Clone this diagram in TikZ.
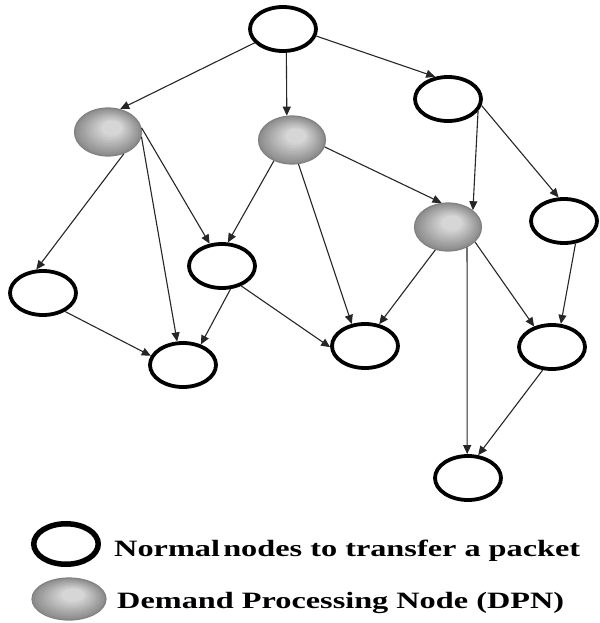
\documentclass[tikz,border=0pt]{standalone}
\usepackage{graphicx}
\usepackage{fontspec}
\setmainfont{Liberation Serif}
\usetikzlibrary{arrows.meta,shapes.geometric}
\definecolor{gdark}{RGB}{140,140,140}
\definecolor{glight}{RGB}{214,214,214}
\definecolor{gborder}{RGB}{130,130,130}
\newcommand{\grayfill}[4]{%
  \foreach \k in {0,...,11}{%
    \pgfmathsetmacro{\gf}{1-\k/16}%
    \pgfmathsetmacro{\gm}{\k*100/11}%
    \fill[glight!\gm!gdark] ({#1+\k*0.35},{#2-\k*0.35}) ellipse [x radius={(#3*\gf)*1pt}, y radius={(#4*\gf)*1pt}];
  }}
\begin{document}
\begin{tikzpicture}[x=1pt,y=-1pt,
  wnode/.style={ellipse,draw=black,line width=3.8pt,fill=white,minimum width=66pt,minimum height=44pt,inner sep=0pt},
  gnode/.style={ellipse,draw=gborder,line width=1.2pt,minimum width=67pt,minimum height=48pt,inner sep=0pt},
  conn/.style={-{Triangle[length=9pt,width=8pt]},line width=1.1pt,draw=black!85},
  legtext/.style={anchor=base west,inner sep=0pt,font=\fontsize{23.4}{28}\selectfont\bfseries}]
\useasboundingbox (0,0) rectangle (599,623);
\node[wnode] (A) at (283,29) {};
\node[wnode] (B) at (448,99) {};
\grayfill{108}{132}{33.5}{24}
\node[gnode] (C) at (108,132) {};
\grayfill{292}{140}{33.5}{24}
\node[gnode] (D) at (292,140) {};
\grayfill{448}{227}{33.5}{24}
\node[gnode] (E) at (448,227) {};
\node[wnode] (F) at (564,221) {};
\node[wnode] (G) at (222,266) {};
\node[wnode] (H) at (43,293) {};
\node[wnode] (I) at (183,365) {};
\node[wnode] (J) at (365,346) {};
\node[wnode] (K) at (552,347) {};
\node[wnode] (L) at (468,478) {};
\draw[conn] (A.206) -- (C.62);
\draw[conn] (A.278) -- (D.102);
\draw[conn] (A.348) -- (B.120);
\draw[conn] (B.338) -- (E.34);
\draw[conn] (B.349) -- (F.103);
\draw[conn] (C.306) -- (H.106);
\draw[conn] (C.352) -- (I.104);
\draw[conn] (C.7) -- (G.119);
\draw[conn] (D.229) -- (G.76);
\draw[conn] (D.285) -- (J.121);
\draw[conn] (D.348) -- (E.105);
\draw[conn] (E.241) -- (J.57);
\draw[conn] (E.313) -- (L.92);
\draw[conn] (E.331) -- (K.131);
\draw[conn] (F.297) -- (K.69);
\draw[conn] (G.290) -- (I.49);
\draw[conn] (G.314) -- (J.182);
\draw[conn] (H.320) -- (I.164);
\draw[conn] (K.248) -- (L.66);
\node[wnode,line width=5.5pt,minimum width=64.5pt,minimum height=40.5pt] (LW) at (66,544) {};
\grayfill{69}{599}{37}{21}
\node[gnode,minimum width=74pt,minimum height=42pt] (LG) at (69,599) {};
\node[legtext] (T1) at (114,556.7) {\scalebox{1.38}[1]{Normal\hspace{0.1em}nodes to transfer a packet}};
\node[legtext] (T2) at (117,608) {\scalebox{1.38}[1]{Demand Processing Node (DPN)}};
\end{tikzpicture}
\end{document}
